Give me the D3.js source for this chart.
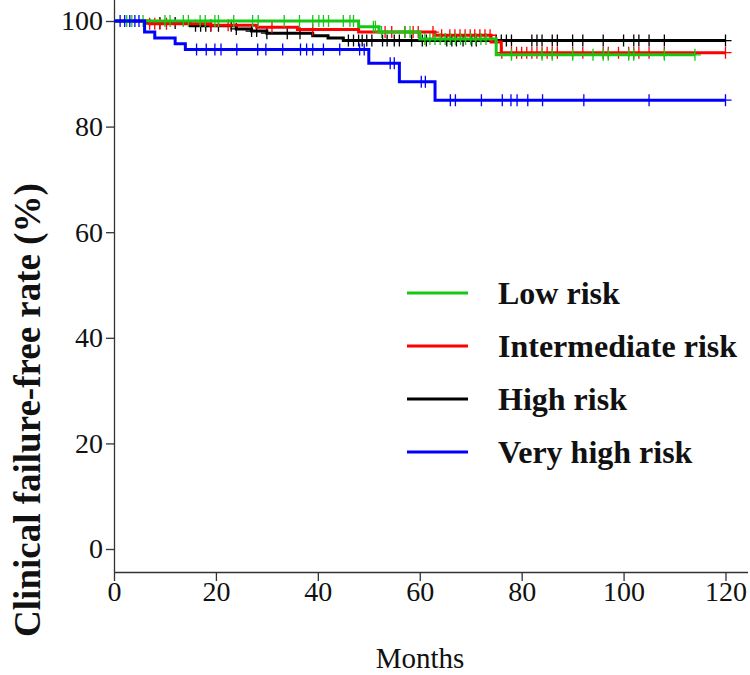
<!DOCTYPE html>
<html><head><meta charset="utf-8">
<script src="https://cdn.jsdelivr.net/npm/d3@7"></script>
<style>body{margin:0;background:#fff}svg{display:block}</style>
</head><body>
<svg id="c" width="750" height="675"></svg>
<script>
// ---- data ----
const seriesNames = ["Low risk","Intermediate risk","High risk","Very high risk"];
const seriesColors = ["#14c814","#ff0000","#000000","#0000ff"];
const xTicks = [0,20,40,60,80,100,120];
const yTicks = [0,20,40,60,80,100];

// step times (months) and survival (%) after each step
const lowTimes  = [0,48,52,60,75];
const lowSurv   = [100,98.9,97.9,96.6,93.6];
const lowEnd    = 114;
const lowCensor = [2.5,3.5,5.7,10,11,13.6,14.6,16.9,17.9,19.8,20.5,23.5,27.2,28.3,33.4,36.4,39,40.2,41.1,42.1,45,46.3,47,50.9,51.3,52.5,57.1,58.1,61,62,63,64,65,66,67,68,69,70,71,72,73,78,84,86,90,94,96,97,101,102,108,114];

const intTimes  = [0,7,19,28,36,48,63,74,76];
const intSurv   = [100,99.5,99.2,98.8,98.4,97.9,97.3,96.0,94.0];
const intEnd    = 120;
const intCensor = [7,8,9,10.3,19,22.4,31,39,53.2,54.5,57.1,58.7,59.7,62.6,64.3,65.9,66.9,67.9,68.9,69.9,70.8,71.8,72.8,73.8,75,76.1,78,79,80,81,82,83,84,85,86,87,90,92,96,97,99,101,102,103,105,108,120];

const highTimes  = [0,6,15,24,27,30,39,42,45];
const highSurv   = [100,99.6,99.1,98.5,98.1,97.7,97.2,96.8,96.3];
const highEnd    = 120;
const highCensor = [9,12,16,17,18,19,20.5,23,24,27,28,30,34,36.5,46,47,48,48.7,49.6,50.6,52.7,53.6,55,56,58.4,60.5,61.3,65.3,66.3,67.2,68.5,70.2,71.1,75,76,77,78,82,83,84,86,87,90,92,96,100,102,103,105,108,120];

const vhTimes  = [0,6,8,12,14,50,56,63];
const vhSurv   = [100,97.9,96.8,95.7,94.6,92.0,88.5,85.0];
const vhEnd    = 120;
const vhCensor = [1.2,2.1,3.1,4.1,4.9,16.2,18.1,19.8,21,24.1,28.2,29.8,33.1,36.6,37.8,39,41.1,44.3,48.2,49.1,54.2,55,60.3,61.1,66,67,72.1,76.2,77.9,79.1,81.2,84.1,92.2,105,120];

const series = [
  {name:seriesNames[0], color:seriesColors[0], t:lowTimes, s:lowSurv, end:lowEnd, c:lowCensor},
  {name:seriesNames[1], color:seriesColors[1], t:intTimes, s:intSurv, end:intEnd, c:intCensor},
  {name:seriesNames[2], color:seriesColors[2], t:highTimes, s:highSurv, end:highEnd, c:highCensor},
  {name:seriesNames[3], color:seriesColors[3], t:vhTimes, s:vhSurv, end:vhEnd, c:vhCensor}
];

// ---- drawing ----
const svg = d3.select("#c");
const x = d3.scaleLinear().domain([0,120]).range([114,725.5]);
const y = d3.scaleLinear().domain([0,100]).range([549,21]);
const axisY0 = 572;

const font = "'Liberation Serif', 'Times New Roman', serif";

// x axis
const xAxis = svg.append("g").attr("transform",`translate(0,${axisY0})`)
  .call(d3.axisBottom(x).tickValues(xTicks).tickSize(9).tickFormat(d3.format("d")));
xAxis.select(".domain").attr("d",`M${x(0)},0.5H748`);
xAxis.selectAll("line,path").attr("stroke","#333").attr("stroke-width",1.3);
xAxis.selectAll("text").attr("font-family",font).attr("font-size",28).attr("fill","#111")
  .attr("y",19).attr("dy","0.35em");

// y axis
const yAxis = svg.append("g").attr("transform",`translate(${x(0)},0)`)
  .call(d3.axisLeft(y).tickValues(yTicks).tickSize(8).tickPadding(3).tickFormat(d3.format("d")));
yAxis.select(".domain").attr("d",`M0.5,0V${axisY0}`);
yAxis.selectAll("line,path").attr("stroke","#333").attr("stroke-width",1.3);
yAxis.selectAll("text").attr("font-family",font).attr("font-size",28).attr("fill","#111");

// axis titles
svg.append("text").attr("x",420).attr("y",668).attr("text-anchor","middle")
  .attr("font-family",font).attr("font-size",29).attr("fill","#111").text("Months");
svg.append("text").attr("transform","translate(40,410) rotate(-90)").attr("text-anchor","middle")
  .attr("font-family",font).attr("font-weight","bold").attr("font-size",37).attr("fill","#111")
  .text("Clinical failure-free rate (%)");

function survAt(d, t){
  let v = d.s[0];
  for(let i=0;i<d.t.length;i++){ if(d.t[i] <= t) v = d.s[i]; }
  return v;
}
function stepPath(d){
  let p = `M${x(0)},${y(d.s[0])}`;
  for(let i=1;i<d.t.length;i++){
    p += `H${x(d.t[i])}V${y(d.s[i])}`;
  }
  p += `H${x(d.end)}`;
  return p;
}

const order = [2,1,0,3];
order.forEach(i=>{
  const d = series[i];
  const g = svg.append("g");
  g.append("path").attr("d",stepPath(d)).attr("fill","none")
    .attr("stroke",d.color).attr("stroke-width",3);
  g.selectAll("path.cm").data(d.c).join("path").attr("class","cm")
    .attr("d",t=>{const cx=x(t), cy=y(survAt(d,t)); return `M${cx},${cy-6}V${cy+6}M${cx-6},${cy}H${cx+6}`;})
    .attr("fill","none").attr("stroke",d.color).attr("stroke-width",1.3);
});

// legend
const legY = [293,346,399,452];
series.forEach((d,i)=>{
  svg.append("line").attr("x1",407).attr("x2",468).attr("y1",legY[i]).attr("y2",legY[i])
    .attr("stroke",d.color).attr("stroke-width",3);
  svg.append("text").attr("x",498).attr("y",legY[i]).attr("dy","0.35em")
    .attr("font-family",font).attr("font-weight","bold").attr("font-size",32).attr("fill","#111")
    .text(d.name);
});
</script>
</body></html>
